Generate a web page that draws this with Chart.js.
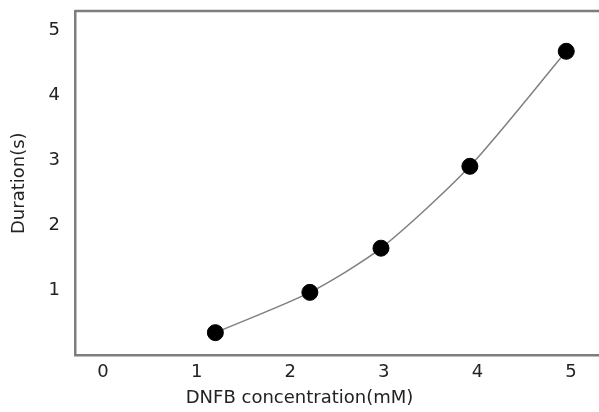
<!DOCTYPE html>
<html>
<head>
<meta charset="utf-8">
<script src="https://cdn.jsdelivr.net/npm/chart.js@4"></script>
<style>
    html, body { margin: 0; padding: 0; background: #fff; }
    #wrap { width: 599px; height: 412px; }
</style>
</head>
<body>
<div id="wrap"><canvas id="durationChart"></canvas></div>
<script>
// values
const concentration = [1.2, 2.21, 2.97, 3.92, 4.95];   // mM
const duration = [0.35, 0.97, 1.65, 2.91, 4.68];       // s
const xTicks = [0, 1, 2, 3, 4, 5];
const yTicks = [1, 2, 3, 4, 5];

const points = concentration.map((c, i) => ({ x: c, y: duration[i] }));
const labelFont = { family: "'DejaVu Sans', sans-serif", size: 18 };

// keep the frame flush with the edges (no room reserved for end labels)
const noEdgePadding = scale => {
    scale.paddingLeft = 0;
    scale.paddingRight = 0;
    scale.paddingTop = 0;
    scale.paddingBottom = 0;
};

// top edge of the frame
const topBorder = {
    id: 'topBorder',
    afterDraw(chart) {
        const { ctx, chartArea } = chart;
        ctx.save();
        ctx.strokeStyle = '#7d7d7d';
        ctx.lineWidth = 2.5;
        ctx.beginPath();
        ctx.moveTo(chartArea.left, chartArea.top);
        ctx.lineTo(chartArea.right, chartArea.top);
        ctx.stroke();
        ctx.restore();
    }
};

const ctx = document.getElementById('durationChart').getContext('2d');

new Chart(ctx, {
    type: 'line',
    data: {
        datasets: [{
            data: points,
            borderColor: '#808080',
            borderWidth: 1.5,
            tension: 0.25,
            pointRadius: 8,
            pointBackgroundColor: '#000',
            pointBorderColor: '#000',
            pointBorderWidth: 1
        }]
    },
    options: {
        responsive: true,
        maintainAspectRatio: false,
        animation: false,
        layout: { autoPadding: false, padding: { top: 11, right: 0, left: 0, bottom: 0 } },
        plugins: {
            legend: { display: false },
            tooltip: { enabled: false },
            title: {
                display: true,
                position: 'bottom',
                text: 'DNFB concentration(mM)',
                color: '#222',
                font: { ...labelFont, weight: 'normal' },
                padding: { top: 0, bottom: 3 }
            }
        },
        scales: {
            x: {
                type: 'linear',
                min: -0.3,
                max: 5.3,
                afterBuildTicks: scale => { scale.ticks = xTicks.map(v => ({ value: v })); },
                afterFit: scale => { scale.height = 32; noEdgePadding(scale); },
                grid: { display: false, drawTicks: false },
                border: { display: true, color: '#7d7d7d', width: 2.5 },
                ticks: { color: '#222', font: labelFont, padding: 6, maxRotation: 0 }
            },
            y: {
                type: 'linear',
                min: 0,
                max: 5.3,
                afterBuildTicks: scale => { scale.ticks = yTicks.map(v => ({ value: v })); },
                afterFit: scale => { scale.width = 75; noEdgePadding(scale); },
                grid: { display: false, drawTicks: false },
                border: { display: true, color: '#7d7d7d', width: 2.5 },
                ticks: { color: '#222', font: labelFont, padding: 15 },
                title: {
                    display: true,
                    text: 'Duration(s)',
                    color: '#222',
                    font: labelFont,
                    padding: { top: 9, bottom: 0 }
                }
            }
        }
    },
    plugins: [topBorder]
});
</script>
</body>
</html>
